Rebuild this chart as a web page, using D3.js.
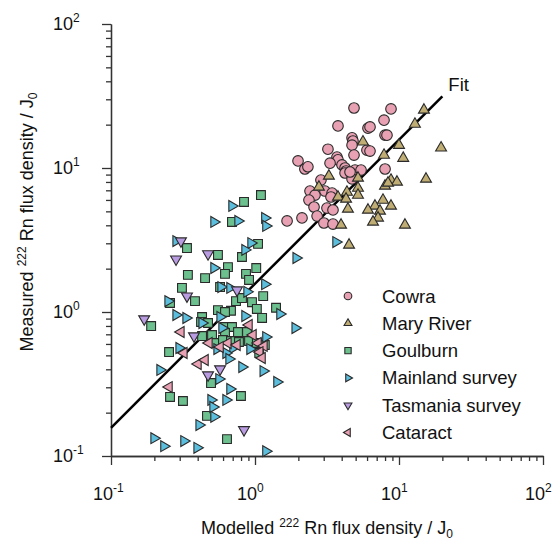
<!DOCTYPE html>
<html>
<head>
<meta charset="utf-8">
<script src="https://cdn.jsdelivr.net/npm/d3@7"></script>
<style>
  body { margin: 0; background: #fff; }
  svg { display: block; font-family: "Liberation Sans", Arial, sans-serif; }
</style>
</head>
<body>
<div id="chart"></div>
<script>
// values: [modelled, measured] in units of J0
const cowra = [
  [4.87, 26.1], [8.80, 25.7], [3.77, 19.6], [6.09, 18.9], [6.29, 19.3], [7.87, 21.5],
  [8.0, 16.9], [8.25, 16.9], [4.72, 16.2], [4.79, 15.4], [4.72, 14.4], [3.21, 13.5],
  [5.99, 13.3], [6.29, 13.1], [1.99, 11.2], [2.22, 9.84], [2.33, 10.2], [3.71, 11.9],
  [3.77, 11.4], [3.32, 10.8], [4.02, 10.5], [4.22, 10.0], [4.29, 9.53], [4.87, 12.3],
  [4.95, 9.68], [5.45, 9.68], [8.0, 9.84], [4.22, 9.23], [2.87, 8.25], [4.72, 8.39],
  [4.57, 9.38], [2.41, 6.92], [2.61, 6.49], [2.37, 5.99], [3.06, 6.92], [3.43, 6.70],
  [3.37, 6.29], [2.57, 5.36], [3.16, 5.27], [3.48, 5.11], [2.70, 4.64], [2.12, 4.50],
  [1.67, 4.29], [3.01, 4.15], [3.48, 4.08]
];
const maryRiver = [
  [14.9, 25.3], [12.9, 20.2], [5.62, 15.2], [10.0, 14.4], [19.6, 13.8], [7.87, 12.3],
  [10.7, 11.7], [3.26, 8.80], [5.19, 8.52], [8.80, 8.25], [9.68, 8.0], [8.0, 7.50],
  [8.39, 7.87], [15.4, 8.39], [2.78, 7.38], [4.35, 6.81], [5.19, 7.26], [5.19, 6.49],
  [3.77, 6.29], [4.29, 6.09], [7.74, 5.99], [8.80, 5.45], [6.81, 5.45], [6.09, 5.11],
  [7.38, 5.03], [4.42, 5.19], [7.15, 4.50], [6.60, 4.22], [11.0, 4.02], [3.96, 4.02],
  [4.50, 2.92]
];
const goulburn = [
  [1.10, 6.49], [0.839, 5.81], [0.692, 4.22], [0.337, 2.78], [0.553, 2.49], [0.812, 2.41],
  [1.05, 2.97], [0.649, 2.05], [1.02, 2.02], [0.342, 1.81], [0.450, 1.72], [0.619, 1.84],
  [0.866, 1.84], [0.909, 1.67], [0.311, 1.47], [0.572, 1.49], [0.383, 1.19], [0.257, 1.155],
  [0.738, 1.19], [0.812, 1.25], [1.14, 1.29], [0.953, 1.17], [0.553, 1.03], [0.681, 1.02],
  [1.03, 1.05], [1.40, 1.07], [0.619, 1.0], [0.429, 0.923], [1.12, 0.909], [0.190, 0.799],
  [0.422, 0.852], [0.472, 0.839], [0.429, 0.681], [0.503, 0.692], [0.619, 0.787], [0.692, 0.787],
  [0.619, 0.715], [0.880, 0.726], [0.762, 0.726], [0.527, 0.609], [0.599, 0.639], [0.681, 0.629],
  [0.774, 0.619], [0.909, 0.629], [1.03, 0.609], [1.17, 0.590], [1.07, 0.519], [0.253, 0.527],
  [0.495, 0.321], [0.257, 0.257], [0.316, 0.241], [0.799, 0.261], [0.464, 0.190], [0.639, 0.131]
];
const mainland = [
  [0.692, 5.45], [0.519, 4.22], [0.762, 4.29], [1.17, 4.50], [1.19, 3.96], [0.283, 3.11],
  [0.938, 3.01], [0.852, 2.70], [1.93, 2.37], [0.519, 2.02], [1.17, 1.56], [0.581, 1.49],
  [0.670, 1.47], [0.880, 1.38], [0.249, 1.19], [1.49, 0.969], [0.852, 0.938], [0.283, 0.953],
  [0.332, 0.909], [0.572, 0.923], [1.90, 0.774], [0.429, 0.839], [0.590, 0.774], [1.19, 0.670],
  [0.703, 0.562], [0.545, 0.553], [0.923, 0.553], [0.297, 0.562], [0.629, 0.519], [0.660, 0.472],
  [0.812, 0.415], [0.219, 0.396], [1.14, 0.389], [0.562, 0.342], [1.42, 0.327], [0.670, 0.292],
  [0.495, 0.245], [0.629, 0.245], [0.511, 0.219], [0.519, 0.187], [0.409, 0.164], [0.199, 0.133],
  [0.233, 0.117], [0.321, 0.127], [0.396, 0.114], [1.19, 0.108], [3.65, 3.06]
];
const tasmania = [
  [0.306, 3.11], [0.283, 2.33], [0.472, 2.53], [0.750, 1.42], [0.337, 1.29],
  [0.170, 0.894], [0.377, 0.681], [0.472, 0.365], [0.572, 0.402], [0.839, 0.152]
];
const cataract = [
  [0.306, 0.726], [0.909, 0.812], [0.969, 0.692], [0.479, 0.609], [0.649, 0.609],
  [1.05, 0.609], [1.155, 0.581], [1.08, 0.527], [1.12, 0.479], [0.321, 0.519],
  [0.402, 0.435], [0.450, 0.464], [0.253, 0.301], [0.572, 0.571], [0.750, 0.590]
];

const seriesNames = ["Cowra", "Mary River", "Goulburn", "Mainland survey", "Tasmania survey", "Cataract"];
const seriesData = [cowra, maryRiver, goulburn, mainland, tasmania, cataract];
const seriesShapes = ["circle", "up", "square", "right", "down", "left"];
const seriesColors = ["#e8a0b3", "#bfad74", "#6cc08d", "#5bbedc", "#b99be1", "#e8a0b3"];

const fitSlope = 1.57;       // measured = 1.57 * modelled
const fitRange = [0.1, 20];
const decades = [-1, 0, 1, 2];

const width = 558, height = 540;
const x = d3.scaleLog().domain([0.1, 100]).range([111, 543]);
const y = d3.scaleLog().domain([0.1, 100]).range([456, 24]);

const svg = d3.select("#chart").append("svg")
  .attr("width", width)
  .attr("height", height);

// ticks: majors at decades, minors at 2..9
const allTicks = x.ticks();
const isMajor = (v) => Math.abs(Math.log10(v) - Math.round(Math.log10(v))) < 1e-6;
const majors = allTicks.filter(isMajor);
const minors = allTicks.filter((v) => !isMajor(v));

function styleAxis(g) {
  g.selectAll("path, line").attr("stroke", "#333").attr("stroke-width", 1.3);
  g.selectAll("text").remove();
}

svg.append("g").attr("transform", "translate(0,456)")
  .call(d3.axisBottom(x).tickValues(minors).tickSize(5).tickSizeOuter(0).tickFormat(""))
  .call(styleAxis);
svg.append("g").attr("transform", "translate(0,456)")
  .call(d3.axisBottom(x).tickValues(majors).tickSize(9).tickSizeOuter(0).tickFormat(""))
  .call(styleAxis);
svg.append("g").attr("transform", "translate(111,0)")
  .call(d3.axisLeft(y).tickValues(minors).tickSize(5).tickSizeOuter(0).tickFormat(""))
  .call(styleAxis);
svg.append("g").attr("transform", "translate(111,0)")
  .call(d3.axisLeft(y).tickValues(majors).tickSize(9).tickSizeOuter(0).tickFormat(""))
  .call(styleAxis);

// tick labels like 10^-1
const labels = svg.append("g").attr("fill", "#111");
decades.forEach((e) => {
  const v = Math.pow(10, e);
  const px = x(v) + 2, pyx = 500;
  labels.append("text").attr("x", px).attr("y", pyx).attr("text-anchor", "end")
    .attr("font-size", 18).text("10");
  labels.append("text").attr("x", px).attr("y", pyx - 8)
    .attr("font-size", 12).text(e);

  const qx = 73, qy = y(v) + 6;
  labels.append("text").attr("x", qx).attr("y", qy).attr("text-anchor", "end")
    .attr("font-size", 18).text("10");
  labels.append("text").attr("x", qx).attr("y", qy - 8)
    .attr("font-size", 12).text(e);
});

// axis titles
function title(anchorX, anchorY, rotate, word) {
  const txt = svg.append("text")
    .attr("text-anchor", "middle")
    .attr("font-size", 18)
    .attr("fill", "#111")
    .attr("transform", `translate(${anchorX},${anchorY}) rotate(${rotate})`);
  txt.append("tspan").text(word + " ");
  txt.append("tspan").attr("font-size", 12).attr("dy", -7).text("222");
  txt.append("tspan").attr("dy", 7).text(" Rn flux density / J");
  txt.append("tspan").attr("font-size", 12).attr("dy", 4).text("0");
  return txt;
}
title(327, 534, 0, "Modelled");
title(33, 222, -90, "Measured");

// fit line
svg.append("line")
  .attr("x1", x(fitRange[0])).attr("y1", y(fitSlope * fitRange[0]))
  .attr("x2", x(fitRange[1])).attr("y2", y(fitSlope * fitRange[1]))
  .attr("stroke", "#000").attr("stroke-width", 2.5);
svg.append("text")
  .attr("x", x(fitRange[1]) + 6).attr("y", y(fitSlope * fitRange[1]) - 5)
  .attr("font-size", 18.5).attr("fill", "#111").text("Fit");

// marker shapes
function triPath(angle, R) {
  const pts = [0, 120, 240].map((a) => {
    const t = (angle + a) * Math.PI / 180;
    return [R * Math.cos(t), R * Math.sin(t)];
  });
  return "M" + pts.map((p) => p[0].toFixed(2) + "," + p[1].toFixed(2)).join("L") + "Z";
}
function shapePath(kind, s) {
  if (kind === "circle") return d3.symbol(d3.symbolCircle, Math.PI * (5.3 * s) ** 2)();
  if (kind === "square") { const h = 4.4 * s; return `M${-h},${-h}H${h}V${h}H${-h}Z`; }
  const angle = { up: -90, down: 90, right: 0, left: 180 }[kind];
  return triPath(angle, 6.3 * s);
}

seriesData.forEach((data, i) => {
  svg.append("g").selectAll("path").data(data).enter().append("path")
    .attr("d", shapePath(seriesShapes[i], 1))
    .attr("transform", (d) => `translate(${x(d[0])},${y(d[1])})`)
    .attr("fill", seriesColors[i])
    .attr("stroke", "#2a2a2a")
    .attr("stroke-width", 1.1);
});

// legend
const legend = svg.append("g");
seriesNames.forEach((name, i) => {
  const ly = 296 + i * 27.3;
  legend.append("path")
    .attr("d", shapePath(seriesShapes[i], 0.72))
    .attr("transform", `translate(348,${ly})`)
    .attr("fill", seriesColors[i])
    .attr("stroke", "#2a2a2a")
    .attr("stroke-width", 1.1);
  legend.append("text")
    .attr("x", 382).attr("y", ly + 6.5)
    .attr("font-size", 18.5).attr("fill", "#111").text(name);
});
</script>
</body>
</html>
